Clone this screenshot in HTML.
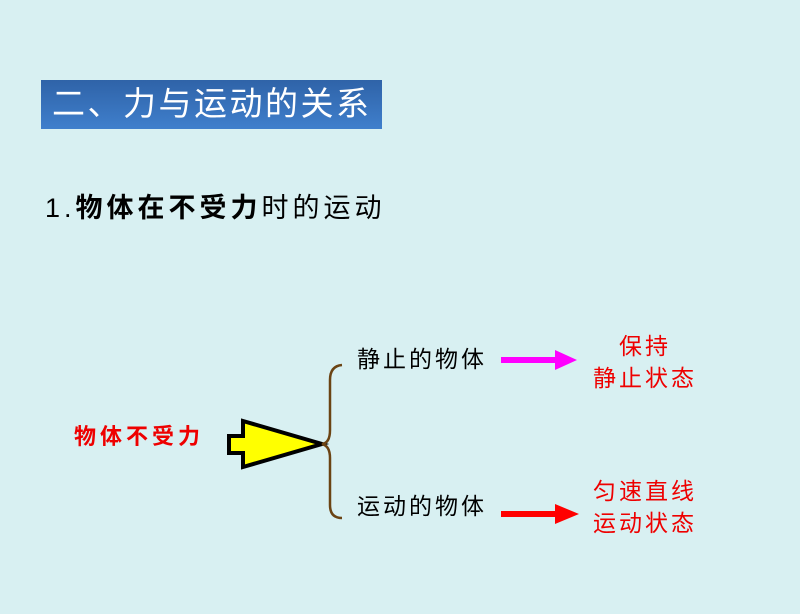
<!DOCTYPE html>
<html><head><meta charset="utf-8"><style>
body{margin:0}
#c{position:relative;width:800px;height:614px;background:#d8f0f2;overflow:hidden;font-family:"Liberation Sans","Noto Sans CJK SC",sans-serif}
.t{position:absolute;white-space:nowrap;line-height:1}
</style></head><body><div id="c">
<div style="position:absolute;left:41px;top:80px;width:341px;height:49px;background:linear-gradient(#2f63a8,#3f7fcc)"></div>
<div class="t" style="left:52px;top:87px;font-size:33px;letter-spacing:2.5px;color:#fff">二、力与运动的关系</div>
<div class="t" style="left:45px;top:195px;font-size:27px;letter-spacing:4px;color:#000">1.<b>物体在不受力</b>时的运动</div>
<div class="t" style="left:74px;top:426px;font-size:22px;letter-spacing:4px;color:#e00;font-weight:bold">物体不受力</div>
<div class="t" style="left:357px;top:348px;font-size:23px;letter-spacing:3px;color:#000">静止的物体</div>
<div class="t" style="left:357px;top:495px;font-size:23px;letter-spacing:3px;color:#000">运动的物体</div>
<div class="t" style="left:585px;top:330px;font-size:23px;letter-spacing:3px;color:#e00;text-align:center;width:120px;line-height:32px">保持<br>静止状态</div>
<div class="t" style="left:585px;top:475px;font-size:23px;letter-spacing:3px;color:#e00;text-align:center;width:120px;line-height:32px">匀速直线<br>运动状态</div>
<svg width="800" height="614" style="position:absolute;left:0;top:0">
<polygon points="229,436 243,436 243,421 322,444 243,467 243,453 229,453" fill="#ff0" stroke="#000" stroke-width="4" stroke-linejoin="miter"/>
<path d="M342,365 Q330,366 330,380 L330,430 Q330,443 322,444 Q330,446 330,458 L330,505 Q330,518 342,518" fill="none" stroke="#6b4414" stroke-width="2.5"/>
<polygon points="501,357 555,357 555,350 577,360 555,370 555,363 501,363" fill="#f0f"/>
<polygon points="501,511 555,511 555,504 579,514 555,524 555,517 501,517" fill="#f00"/>
</svg>
</div></body></html>
